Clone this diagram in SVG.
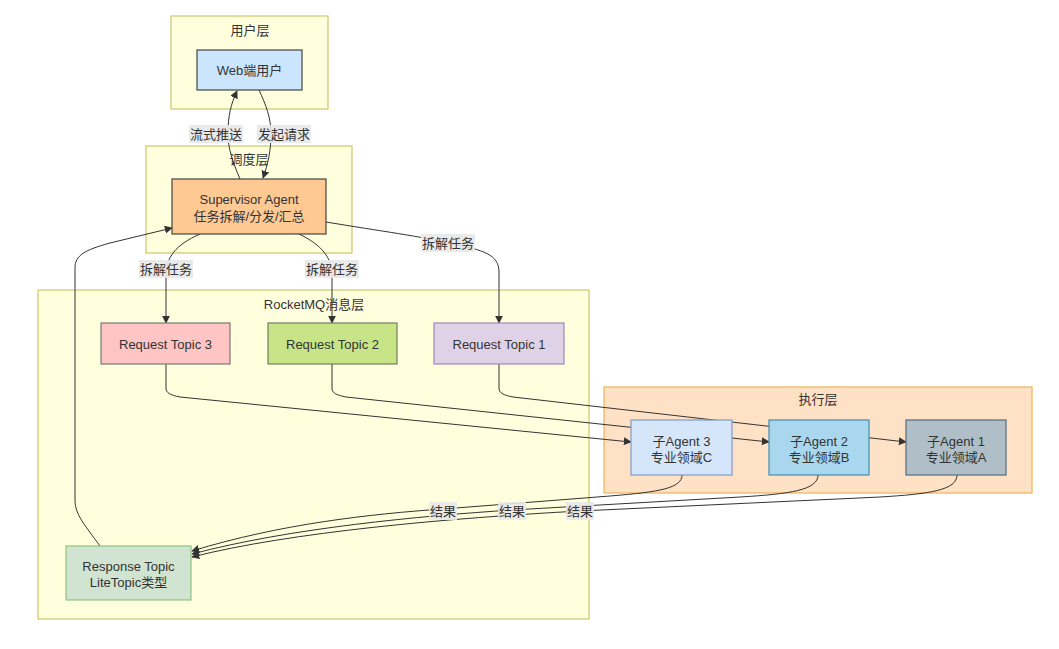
<svg xmlns="http://www.w3.org/2000/svg" width="1059" height="649" viewBox="0 0 1059 649">
<defs>
<marker id="arr" viewBox="0 0 10 10" refX="9" refY="5" markerWidth="8" markerHeight="8" markerUnits="userSpaceOnUse" orient="auto">
<path d="M0,0 L10,5 L0,10 z" fill="#333"/>
</marker>
<style>
text{font-family:"Liberation Sans","Noto Sans CJK SC",sans-serif;font-size:13px;fill:#333;text-anchor:middle;dominant-baseline:central}
.cl{fill:#ffffde;stroke:#cccc77;stroke-width:1.3}
.node rect{stroke-width:1.2}
.e{fill:none;stroke:#333;stroke-width:1;marker-end:url(#arr)}
.lb{fill:#e8e8e8;opacity:0.9}
</style>
</defs>
<rect width="1059" height="649" fill="#ffffff"/>
<g id="clusters">
<rect class="cl" x="171" y="16" width="157" height="93"/>
<text x="250" y="30">用户层</text>
<rect class="cl" x="146" y="146" width="206" height="107"/>
<text x="249" y="159">调度层</text>
<rect class="cl" x="38" y="290" width="551" height="329"/>
<text x="314" y="304">RocketMQ消息层</text>
<rect x="604" y="387" width="428" height="106" fill="#ffe1c6" stroke="#f0b760" stroke-width="1.3"/>
<text x="818" y="399">执行层</text>
</g>
<g id="connectors">
<path class="e" d="M240,179 C232,160 228,148 228,134 C228,115 231,104 237,91"/>
<path class="e" d="M259,90 C266,105 271,118 271,134 C271,150 268,164 263,178"/>
<path class="e" d="M200,234 C175,245 166,258 166,275 L166,323"/>
<path class="e" d="M299,234 C322,245 332,258 332,275 L332,323"/>
<path class="e" d="M326,222 C380,231 425,237 448,243 C485,250 499,255 499,272 L499,323"/>
<path class="e" d="M166,364 L166,388 C166,393 170,395 180,397 L631,442"/>
<path class="e" d="M332,364 L332,388 C332,393 336,395 346,397 L769,442"/>
<path class="e" d="M499,364 L499,388 C499,393 503,395 513,397 L906,442"/>
<path class="e" d="M682,475 C682,488 660,492 610,496 L443,509 C370,514 280,524 192,551"/>
<path class="e" d="M818,475 C818,490 790,494 740,497 L512,510 C420,516 290,528 192,554"/>
<path class="e" d="M957,475 C957,490 930,494 880,497 L580,511 C450,518 290,532 192,557"/>
<path class="e" d="M100,546 C85,525 75,515 75,500 L75,268 C75,255 85,250 110,243 L172,228"/>
<g id="edge-labels">
<rect class="lb" x="189" y="125" width="54" height="18"/>
<text x="216" y="134">流式推送</text>
<rect class="lb" x="257" y="125" width="54" height="18"/>
<text x="284" y="134">发起请求</text>
<rect class="lb" x="139" y="260" width="54" height="18"/>
<text x="166" y="269">拆解任务</text>
<rect class="lb" x="305" y="260" width="54" height="18"/>
<text x="332" y="269">拆解任务</text>
<rect class="lb" x="421" y="234" width="54" height="18"/>
<text x="448" y="243">拆解任务</text>
<rect class="lb" x="429" y="502" width="28" height="18"/>
<text x="443" y="511">结果</text>
<rect class="lb" x="498" y="502" width="28" height="18"/>
<text x="512" y="511">结果</text>
<rect class="lb" x="566" y="502" width="28" height="18"/>
<text x="580" y="511">结果</text>
</g>
</g>
<g id="web" class="node">
<rect x="197" y="50" width="105" height="40" fill="#cce5ff" stroke="#444"/>
<text x="249.5" y="70">Web端用户</text>
</g>
<g id="supervisor" class="node">
<rect x="172" y="179" width="154" height="55" fill="#ffc994" stroke="#444"/>
<text x="249" y="199">Supervisor Agent</text>
<text x="249" y="216">任务拆解/分发/汇总</text>
</g>
<g id="topic3" class="node">
<rect x="101" y="323" width="129" height="41" fill="#ffc4c4" stroke="#777"/>
<text x="165.5" y="344">Request Topic 3</text>
</g>
<g id="topic2" class="node">
<rect x="268" y="323" width="129" height="41" fill="#c7e587" stroke="#6f7f60"/>
<text x="332.5" y="344">Request Topic 2</text>
</g>
<g id="topic1" class="node">
<rect x="434" y="323" width="130" height="41" fill="#dfd2e6" stroke="#a386b3"/>
<text x="499" y="344">Request Topic 1</text>
</g>
<g id="agent3" class="node">
<rect x="631" y="420" width="101" height="55" fill="#d6e6fa" stroke="#7e9bcc"/>
<text x="681.5" y="441">子Agent 3</text>
<text x="681.5" y="457">专业领域C</text>
</g>
<g id="agent2" class="node">
<rect x="769" y="420" width="100" height="55" fill="#a9d8ee" stroke="#3f8fb5"/>
<text x="819" y="441">子Agent 2</text>
<text x="819" y="457">专业领域B</text>
</g>
<g id="agent1" class="node">
<rect x="906" y="420" width="100" height="55" fill="#b0bfc7" stroke="#566d7a"/>
<text x="956" y="441">子Agent 1</text>
<text x="956" y="457">专业领域A</text>
</g>
<g id="response" class="node">
<rect x="66" y="546" width="125" height="54" fill="#d0e4d1" stroke="#8fc480"/>
<text x="128.5" y="566">Response Topic</text>
<text x="128.5" y="582">LiteTopic类型</text>
</g>
</svg>
